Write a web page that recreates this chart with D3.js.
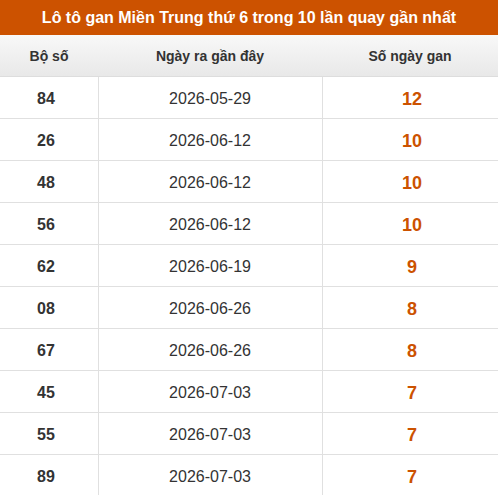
<!DOCTYPE html><html><head><meta charset="utf-8"><script src="https://d3js.org/d3.v7.min.js"></script>
<style>body{margin:0;background:#fff}</style></head><body><svg id="c" width="498" height="495"></svg>
<script>
const title="Lô tô gan Miền Trung thứ 6 trong 10 lần quay gần nhất";
const headers=["Bộ số","Ngày ra gần đây","Số ngày gan"];
const numbers=["84","26","48","56","62","08","67","45","55","89"];
const dates=["2026-05-29","2026-06-12","2026-06-12","2026-06-12","2026-06-19","2026-06-26","2026-06-26","2026-07-03","2026-07-03","2026-07-03"];
const gaps=[12,10,10,10,9,8,8,7,7,7];
const svg=d3.select("#c"),F="Liberation Sans, Arial, sans-serif";
const cols=[0,98,322,498];
const y=d3.scaleBand().domain(d3.range(10)).range([77,497]);
const defs=svg.append("defs").append("linearGradient").attr("id","g").attr("x1",0).attr("x2",0).attr("y1",0).attr("y2",1);
defs.append("stop").attr("offset",0).attr("stop-color","#f8f8f8");defs.append("stop").attr("offset",1).attr("stop-color","#e8e8e8");
svg.append("rect").attr("width",498).attr("height",35).attr("fill","#cc5200");
svg.append("text").attr("x",249).attr("y",22.5).attr("text-anchor","middle").attr("fill","#fff").attr("font-family",F).attr("font-weight","bold").attr("font-size",16).text(title);
svg.append("rect").attr("y",35).attr("width",498).attr("height",42).attr("fill","url(#g)");
svg.append("line").attr("x1",0).attr("x2",498).attr("y1",76.5).attr("y2",76.5).attr("stroke","#ddd");
headers.forEach((h,i)=>svg.append("text").attr("x",(cols[i]+cols[i+1])/2).attr("y",61).attr("text-anchor","middle").attr("fill","#333").attr("font-family",F).attr("font-weight","bold").attr("font-size",14).text(h));
const g=svg.selectAll("g.r").data(numbers).join("g").attr("transform",(d,i)=>`translate(0,${y(i)})`);
g.append("line").attr("x1",0).attr("x2",498).attr("y1",y.bandwidth()-0.5).attr("y2",y.bandwidth()-0.5).attr("stroke","#e0e0e0");
[98.5,322.5].forEach(x=>g.append("line").attr("x1",x).attr("x2",x).attr("y1",0).attr("y2",y.bandwidth()).attr("stroke","#e0e0e0"));
const cy=y.bandwidth()/2+6;
g.append("text").attr("x",46).attr("y",cy).attr("text-anchor","middle").attr("fill","#333").attr("font-family",F).attr("font-weight","bold").attr("font-size",16).text(d=>d);
g.append("text").attr("x",210).attr("y",cy).attr("text-anchor","middle").attr("fill","#333").attr("font-family",F).attr("font-size",16).text((d,i)=>dates[i]);
g.append("text").attr("x",412).attr("y",cy+1).attr("text-anchor","middle").attr("fill","#cc5200").attr("font-family",F).attr("font-weight","bold").attr("font-size",18).text((d,i)=>gaps[i]);
</script></body></html>
